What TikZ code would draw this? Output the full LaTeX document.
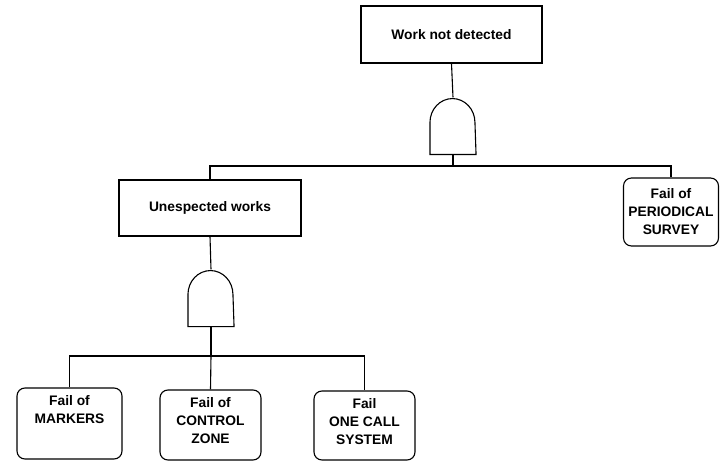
\documentclass[tikz,border=0pt]{standalone}
\usepackage{fontspec}
\setmainfont{Liberation Sans}
\begin{document}
\begin{tikzpicture}[x=1bp,y=-1bp,line width=1.1bp,
  every node/.style={font=\fontsize{13.8bp}{18bp}\selectfont\bfseries},
  event/.style={draw,rectangle,inner sep=0pt,align=center},
  leaf/.style={draw,rectangle,rounded corners=8bp,inner sep=0pt,align=center},
  leaftext/.style={anchor=north,inner sep=0pt,align=center,yshift=-7bp},
  gatebox/.style={inner sep=0pt,minimum width=45bp,minimum height=56bp}]
\useasboundingbox (0,0) rectangle (720,462);

% events
\node[event,minimum width=181bp,minimum height=57bp] (top) at (451.5,34.5) {Work not detected};
\node[event,minimum width=182bp,minimum height=56bp] (unexp) at (210,208) {Unespected works};
\node[leaf,minimum width=95bp,minimum height=68bp] (per) at (671,212) {Fail of\\PERIODICAL\\SURVEY};

% basic events
\node[leaf,minimum width=105bp,minimum height=71bp] (mark) at (69.5,423.5) {};
\node[leaf,minimum width=101bp,minimum height=70bp] (ctrl) at (210.5,425) {};
\node[leaf,minimum width=101bp,minimum height=69bp] (onec) at (364.5,425.5) {};
\node[leaftext] at (mark.north) {Fail of\\MARKERS};
\node[leaftext] at (ctrl.north) {Fail of\\CONTROL\\ZONE};
\node[leaftext] at (onec.north) {Fail\\ONE CALL\\SYSTEM};

% AND gates
\node[gatebox] (g1) at (453,126) {};
\node[gatebox] (g2) at (211,298) {};
\foreach \g in {g1,g2}
  \draw (\g.south west) -- ++(0,-32)
        arc[start angle=180,end angle=0,x radius=22.5bp,y radius=24bp]
        -- (\g.south east) -- cycle;

% connectors
\coordinate (j1) at (453,166);
\coordinate (j2) at (211,356);
\draw (top.south) -- (g1.north);
\draw (g1.south) -- (j1);
\draw (unexp.north) |- (j1) -| (per.north);
\draw (unexp.south) -- (g2.north);
\draw (g2.south) -- (j2);
\draw (mark.north) |- (j2) -| (onec.north);
\draw (j2) -- (ctrl.north);
\end{tikzpicture}
\end{document}
